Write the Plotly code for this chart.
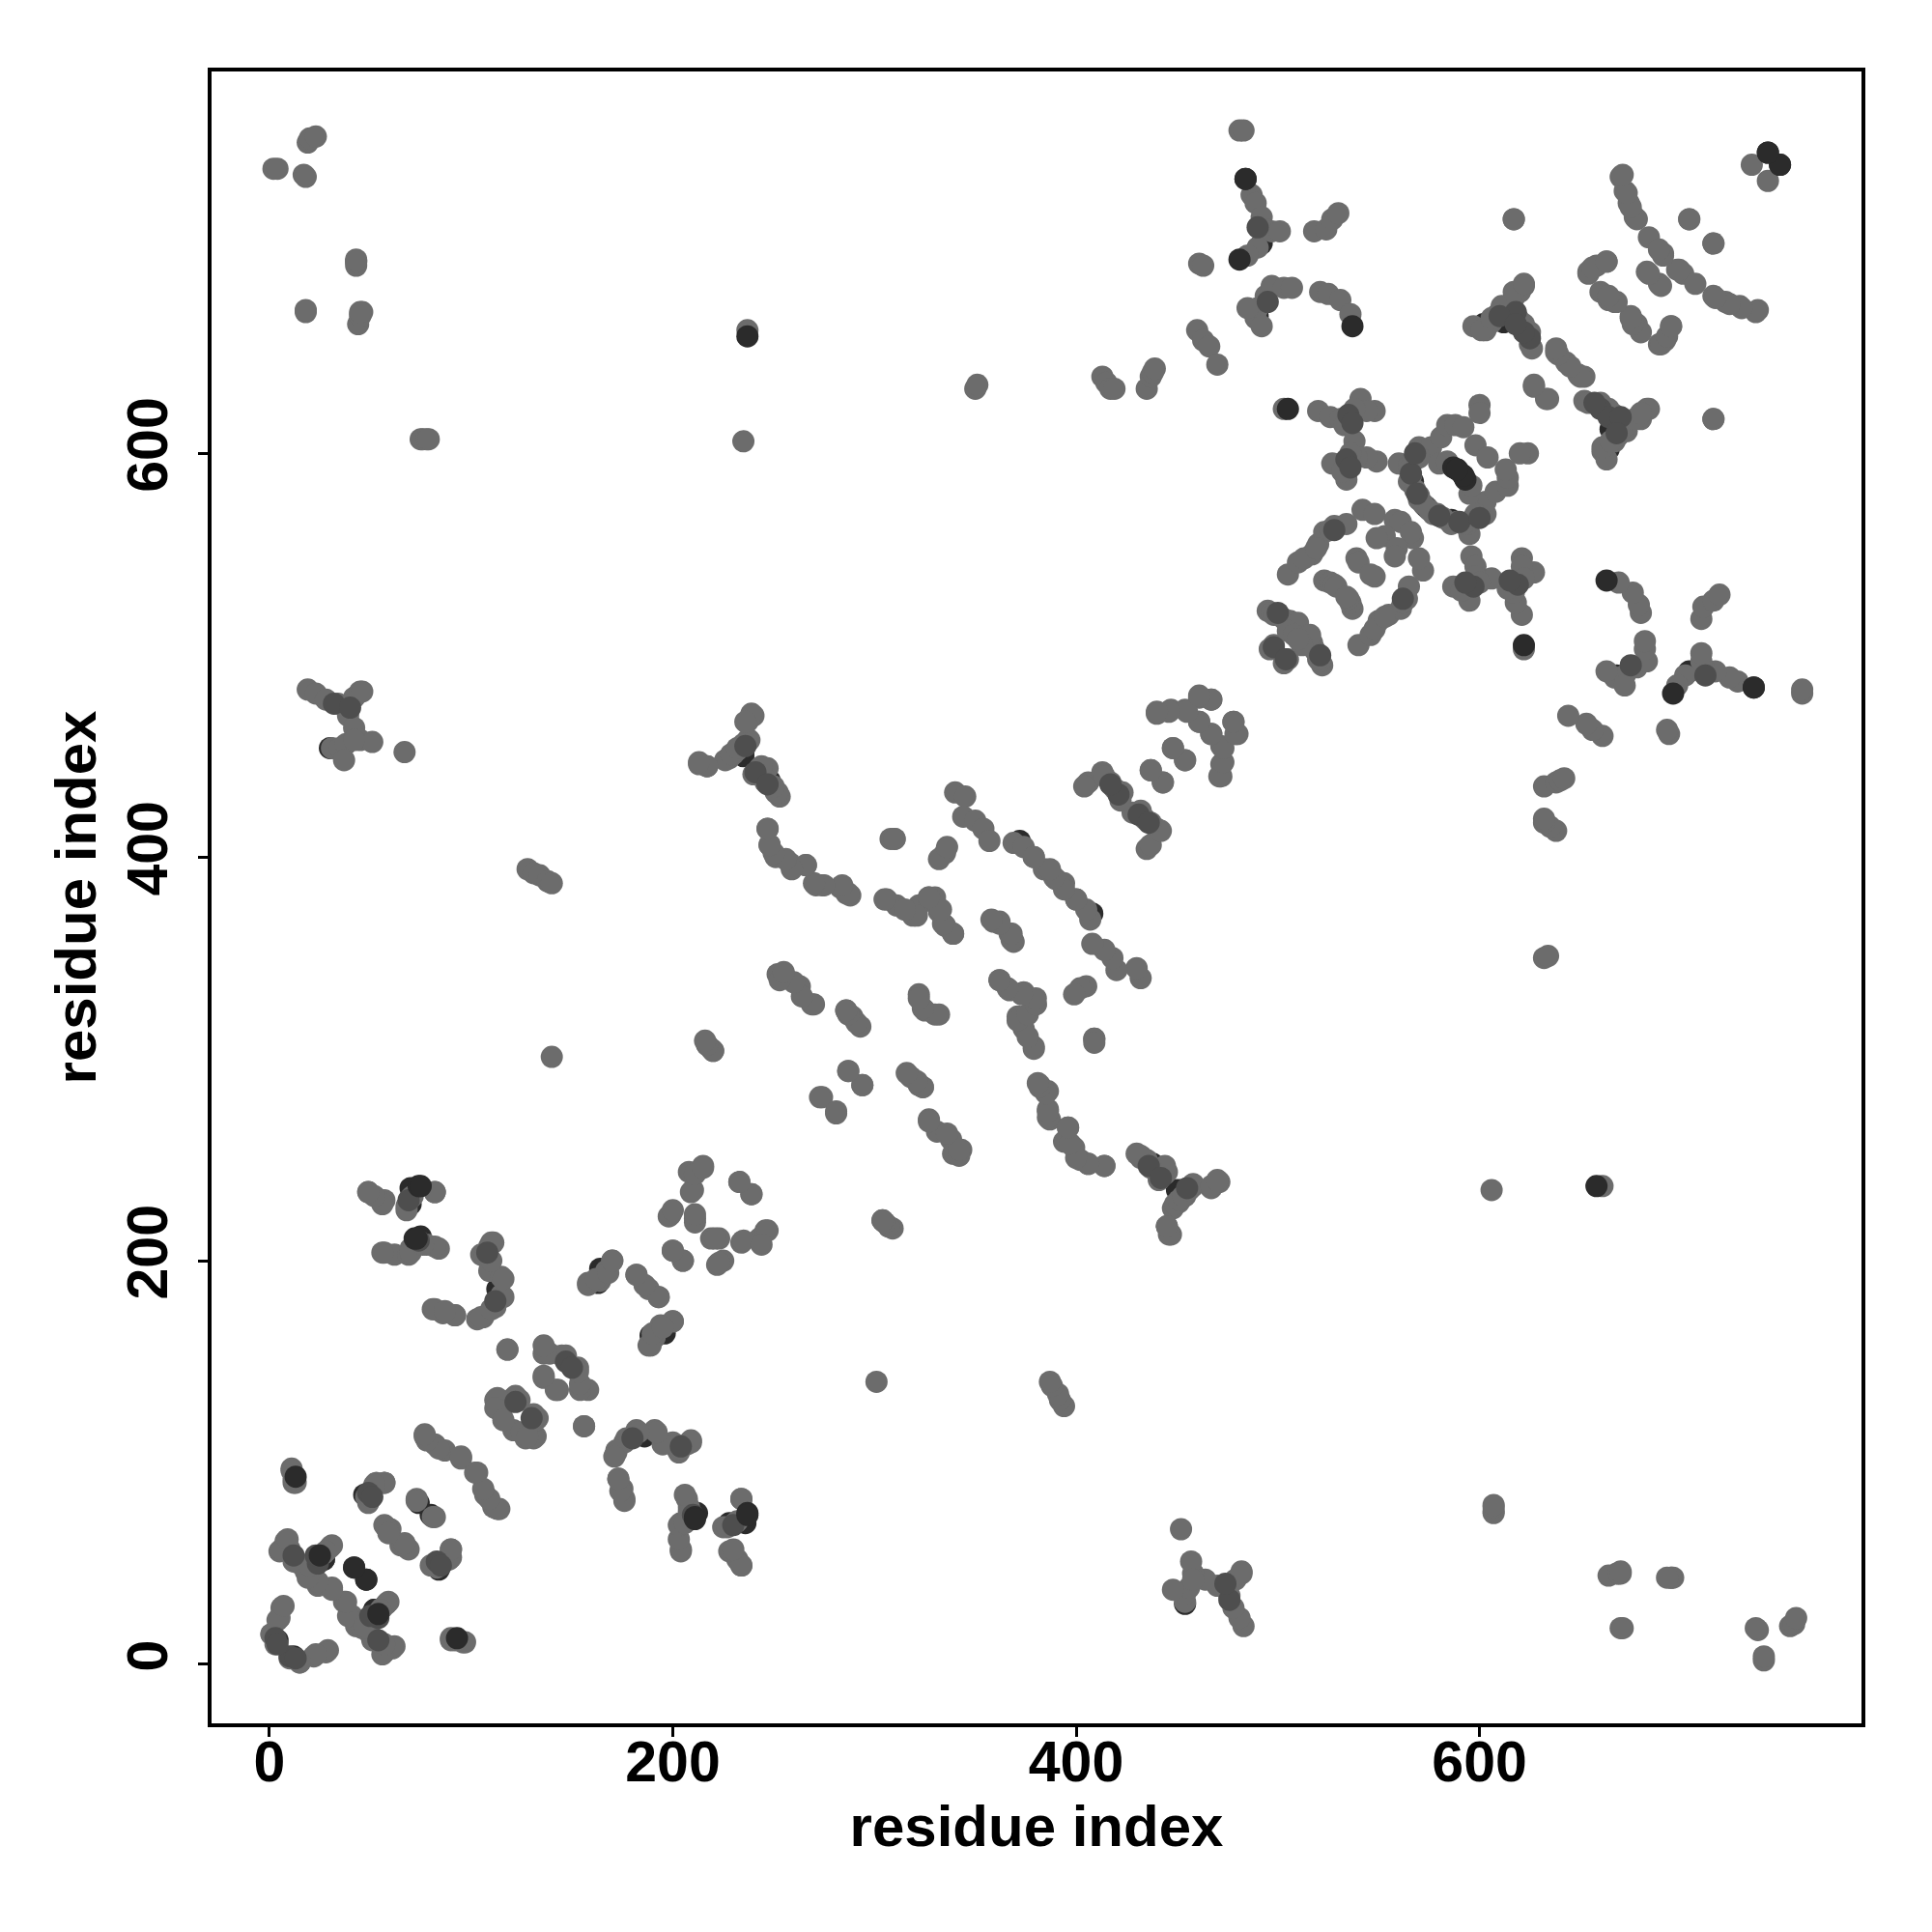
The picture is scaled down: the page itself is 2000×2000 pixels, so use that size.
import plotly.graph_objects as go

tick_values = [0, 200, 400, 600]
axis_title = "residue index"

# Residue contacts (i, j); the map is symmetric so both (i,j) and (j,i) are drawn.
far_contacts = [(2,741),(4,741),(17,738),(18,737),(19,754),(20,756),(23,757),(18,670),(43,695),(43,693),
    (44,664),(45,669),(46,670),(237,661),(235,606),(75,607),(76,607),(78,607),(79,607),(350,632),(351,634),
    (413,638),(415,635),(417,632),(419,632),(435,632),(437,638),(438,640),(439,642),(460,661),(463,656),(466,653),(470,644),
    (461,694),(463,693),(481,760),(483,760),(140,301),(217,307),(219,305),(220,304),(128,394),(131,392),(134,391),(138,388),(140,387),
    (304,220),(307,217),(309,216),(67,452),(617,716),(716,617),(671,18),(695,43),(696,43),(668,45),(670,45),(90,13),(92,12),(96,11)]
arm_480_730 = [(487,728),(489,724),(492,717),(494,711),(497,710),(501,710),(490,702),(485,698),(518,710),(524,711),(527,716),(530,719),
    (489,667),(490,672),(494,678),(497,683),(503,682),(507,682),(485,672),(492,663),(521,680),(525,679),(531,676),(536,669)]
arm_600_680 = [(597,663),(603,661),(606,665),(609,669),(614,673),(617,677),(622,683),(620,680),(619,667),(622,664),(625,660),(625,654),
    (638,650),(643,645),(649,639),(652,638),(627,633),(634,627),(652,626),(660,624),(664,620),(667,617),(661,601),(667,606),(673,611),(680,617),(684,622),
    (654,690),(658,693),(663,695),(660,680),(664,676),(667,675),(675,668),(678,664),(689,654),(692,656),(695,663),
    (670,737),(672,730),(674,724),(677,717),(684,707),(691,699),(683,690),(689,684),(698,691),(701,689),(704,716),(716,704),
    (716,678),(722,675),(729,673),(738,671),(735,743)]
x_cluster_535 = [(503,622),(520,621),(526,618),(541,627),(548,621),(544,621),(535,617),(531,617),(538,622),(533,614),(538,606),
    (549,596),(544,598),(539,598),(535,595),(527,595),(534,587),(532,591),(536,600)]
ring_580 = [(560,595),(565,594),(567,596),(570,603),(576,603),(570,598),(565,592),(566,589),(565,586),(568,582),(570,579),(570,577),(572,575),
    (581,608),(584,614),(588,614),(592,613),(600,624),(600,620),(598,604),(580,595),(584,596)]
band_520 = [(505,540),(510,546),(517,550),(520,555),(523,561),(528,564),(534,565),(542,572),(548,570),(558,567),(561,566),(553,559),
    (549,558),(539,548),(540,546),(523,537),(526,536),(528,535),(529,534),(513,548),(519,553),(526,562)]
blob_500 = [(495,522),(497,521),(498,520),(500,520),(503,518),(506,517),(510,516),(496,503),(498,505),(505,512),(508,510)]
corner_30_470 = [(19,483),(23,481),(28,478),(34,476),(38,475),(42,479),(45,482),(46,482),(39,470),(42,464),(45,458),(51,457),
    (31,454),(35,454),(38,456),(42,458),(37,448)]
strand_240_450 = [(213,446),(217,445),(228,449),(230,451),(232,453),(235,456),(238,458),(237,467),(240,470),(243,444),(247,444),(240,441),(246,437),(251,432),(253,430),
    (247,414),(248,406),(251,400),(258,397),(266,396),(271,386),(274,386),(283,385),(286,382),(288,381)]
strand_300_420 = [(310,409),(308,409),(306,379),(311,376),(319,371),(322,376),(327,380),(330,380),(332,373),(335,366),(339,362),(335,402),(332,399),
    (340,432),(345,430),(344,420),(350,418),(354,414),(357,408),(369,407),(374,405),(379,400),(384,394),(390,389),(394,387),(400,379),
    (359,368),(362,368),(367,362),(369,358),(405,336),(409,310)]
strand_250_340 = [(322,332),(325,324),(330,322),(252,342),(255,342),(263,336),(269,327),(286,324),(289,321),(293,316),(287,294),(294,287),(274,281),(281,273),
    (318,291),(322,287),(324,286),(327,270),(331,264),(338,260),(339,253),(343,255),(362,339),(367,334),(374,333),(380,327),(371,321),(374,315),(379,305)]
strand_390_250 = [(382,287),(386,284),(386,275),(387,270),(396,266),(394,259),(399,256),(402,250),(406,248),(414,247),
    (432,252),(435,250),(440,245),(441,241),(445,244),(448,226),(451,229),(454,232),(458,237),(471,239),(467,236),(445,217),(447,213)]
strand_420_450 = [(406,437),(413,442),(417,437),(423,432),(428,422),(434,419),(440,414),(435,404),(437,443),(443,437),(448,454),(454,448),
    (440,471),(447,473),(454,473),(461,479),(467,478),(461,467),(467,461),(472,455),(472,446),(472,440),(478,467),(480,461)]
bottom_c = [(6,28),(5,23),(1,15),(3,10),(15,1),(22,4),(29,7),(8,61),(5,56),(10,57),(12,51),(18,46),(24,39),(31,38),(30,58),(27,55),(23,52),(19,47),
    (37,31),(41,24),(43,19),(50,15),(57,6),(62,9),(59,31),(56,28),(49,20),(80,49),(84,49),(90,57),(89,52),(57,69),(60,67),(68,58),(65,59),
    (73,82),(81,73),(53,90),(48,83),(57,90),(11,97),(12,90)]
chain_100 = [(77,113),(82,109),(87,106),(95,102),(103,95),(107,84),(111,78),(114,77)]
block_190_90 = [(172,105),(176,110),(182,116),(191,116),(200,110),(207,109),(209,110),(173,92),(176,82),(175,87),(204,56),(204,70),(207,82),(208,76),
    (225,68),(231,70),(234,82),(228,56),(232,52),(234,49)]
block_70_220 = [(49,234),(57,230),(68,227),(71,232),(82,234),(57,204),(62,203),(69,203),(78,208),(84,206),(70,206),
    (105,203),(111,209),(107,202),(109,195),(115,192),(115,183),(112,177),(106,172),(103,171),(81,176),(86,174),(92,173)]
block_130 = [(118,156),(136,154),(139,154),(145,153),(153,147),(155,137),(158,136),(136,142),(143,136),(156,118),
    (112,131),(115,125),(121,132),(124,131),(133,122),(132,113),(127,112),(121,116),(113,128)]
block_190_200 = [(158,189),(164,190),(170,200),(167,195),(182,193),(188,186),(193,182),(188,158),(191,162),(194,168),(200,170),
    (199,223),(210,235),(215,247),(208,244),(200,205),(205,200),(211,221),(219,211),(223,211),(222,198),(225,200),(233,239),(239,233),(234,209),(243,211),(246,215)]
under_contacts = [(47,84),(74,80),(569,600),(567,586),(573,574),(70,228),(113,186),(163,189),(196,164),(212,75),(236,70),
    (450,235),(438,248),(408,372),(248,437),(235,452),(492,704),(490,668),(536,598),(534,616),(615,668),(665,612),(664,602),(38,474),(30,454),(9,58),(27,52),(52,27),(4,12),(12,3)]
mid_contacts = [(535,619),(537,615),(534,597),(536,593),(566,590),(568,600),(569,580),(528,562),(500,521),(498,504),
    (660,622),(664,618),(618,670),(625,657),(32,476),(40,474),(236,455),(241,442),(431,421),(436,417),(147,150),(122,130),
    (12,54),(24,50),(54,23),(10,4),(3,13),(49,85),(83,51),(210,74),(230,69),(108,204),(112,180),(436,247),(490,712),(495,675),(610,668)]
dark_contacts = [(484,736),(481,696),(537,663),(505,622),(74,237),(72,211),(237,658),(42,48),(48,42),(13,93),(54,25),(211,73),(237,75),(743,749),(749,743),
    (587,593),(589,592),(592,589),(736,484)]

light_groups = [far_contacts, arm_480_730, arm_600_680, x_cluster_535, ring_580, band_520, blob_500, corner_30_470,
    strand_240_450, strand_300_420, strand_250_340, strand_390_250, strand_420_450, bottom_c, chain_100,
    block_190_90, block_70_220, block_130, block_190_200]
light_contacts = [pair for group in light_groups for pair in group]


def both_ways(pairs):
    xs = [a for a, b in pairs] + [b for a, b in pairs]
    ys = [b for a, b in pairs] + [a for a, b in pairs]
    return xs, ys


fig = go.Figure()
for pairs, colour in [(under_contacts, "#2b2b2b"), (light_contacts, "#6c6c6c"), (mid_contacts, "#4e4e4e"), (dark_contacts, "#2b2b2b")]:
    xs, ys = both_ways(pairs)
    fig.add_trace(go.Scatter(x=xs, y=ys, mode="markers", showlegend=False,
                             marker=dict(size=23, color=colour, line=dict(width=0))))

font = dict(family="Liberation Sans", size=59, color="black", weight="bold")
title_font = dict(family="Liberation Sans", size=60, color="black", weight="bold")
axis_style = dict(tickmode="array", tickvals=tick_values, ticktext=[str(v) for v in tick_values],
                  ticks="outside", ticklen=10, tickwidth=3, tickcolor="black",
                  showline=True, linewidth=4, linecolor="black", mirror=True,
                  showgrid=False, zeroline=False, tickfont=font, automargin=False)
fig.update_xaxes(range=[-28.7, 789.4], ticklabelstandoff=-25,
                 title=dict(text=axis_title, font=title_font, standoff=14), **axis_style)
fig.update_yaxes(range=[-29.2, 789.2], tickangle=-90, ticklabelstandoff=8,
                 title=dict(text=axis_title, font=title_font, standoff=2), **axis_style)
fig.update_layout(width=2000, height=2000, plot_bgcolor="white", paper_bgcolor="white",
                  margin=dict(l=211, r=81, t=66, b=224))
fig.write_html("out.html")
